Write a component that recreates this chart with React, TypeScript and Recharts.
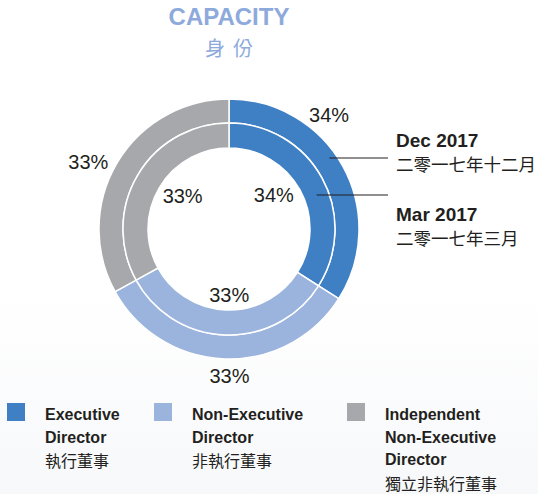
import { Cell, Pie, PieChart } from "recharts";

const categories = ["Executive Director", "Non-Executive Director", "Independent Non-Executive Director"];
const categoryLinesEn = [["Executive", "Director"], ["Non-Executive", "Director"], ["Independent", "Non-Executive", "Director"]];
const categoryLinesZh = ["執行董事", "非執行董事", "獨立非執行董事"];
const dec2017 = [34, 33, 33];
const mar2017 = [34, 33, 33];
const periodsEn = ["Dec 2017", "Mar 2017"];
const periodsZh = ["二零一七年十二月", "二零一七年三月"];

const COLORS = ["#3f7fc4", "#9bb4dd", "#a7a8ab"];
const TEXT = "#231f20";
const TITLE = "#8eaadc";
const FONT = "'Liberation Sans', Arial, 'Noto Sans CJK TC', sans-serif";
const CJK = "'Noto Sans CJK TC', sans-serif";

const CX = 229;
const CY = 229;
const RAD = Math.PI / 180;

const outerData = categories.map((name, i) => ({ name, value: dec2017[i] }));
const innerData = categories.map((name, i) => ({ name, value: mar2017[i] }));

// label nudges so the text sits where the original put it
const outerNudge = [{ da: 20, r: 152 }, { da: 2, r: 147 }, { da: 5, r: 156 }];
const innerNudge = [{ da: 8, r: 56 }, { da: 2, r: 66 }, { da: -5, r: 57 }];

function Callout({ cx, cy, ring, lineDy, radius }: any) {
  const x0 = cx + Math.sqrt(radius * radius - lineDy * lineDy);
  const y = cy - lineDy;
  return (
    <g>
      <line x1={x0} y1={y} x2={cx + 159} y2={y} stroke={TEXT} strokeWidth={1} />
      <text x={cx + 167} y={ring === 0 ? y - 11 : y + 26} fill={TEXT} fontSize={19} fontWeight="bold" fontFamily={FONT}>
        {periodsEn[ring]}
      </text>
      <text x={cx + 167} y={ring === 0 ? y + 13 : y + 50} fill={TEXT} fontSize={17.5} fontFamily={CJK}>
        {periodsZh[ring]}
      </text>
    </g>
  );
}

function makeLabel(ring: number) {
  return (props: any) => {
    const { cx, cy, midAngle, index, value } = props;
    const n = ring === 0 ? outerNudge[index] : innerNudge[index];
    const a = (midAngle + n.da) * RAD;
    const x = cx + n.r * Math.cos(a);
    const y = cy - n.r * Math.sin(a);
    return (
      <g key={`l-${ring}-${index}`}>
        <text x={x} y={y} textAnchor="middle" dominantBaseline="central" fill={TEXT} fontSize={20} fontFamily={FONT}>
          {`${value}%`}
        </text>
        {index === 0 && (
          <Callout cx={cx} cy={cy} ring={ring} lineDy={ring === 0 ? 71 : 34} radius={ring === 0 ? 123 : 94} />
        )}
      </g>
    );
  };
}

export default function App() {
  return (
    <div
      style={{
        position: "absolute",
        left: 0,
        top: 0,
        width: 538,
        height: 494,
        background: "linear-gradient(#ffffff 0%, #ffffff 60%, #f7f8fa 100%)",
        fontFamily: FONT,
        color: TEXT,
        overflow: "hidden",
      }}
    >
      <div style={{ position: "absolute", left: 0, width: 458, top: 3, textAlign: "center", color: TITLE, fontSize: 24, fontWeight: "bold", lineHeight: "28px" }}>
        CAPACITY
      </div>
      <div style={{ position: "absolute", left: 0, width: 466, top: 35, textAlign: "center", color: TITLE, fontSize: 20, fontFamily: CJK, letterSpacing: 8, lineHeight: "26px" }}>
        身份
      </div>

      <div style={{ position: "absolute", left: 0, top: 0 }}>
        <PieChart width={538} height={494} margin={{ top: 0, right: 0, bottom: 0, left: 0 }}>
          <Pie
            data={outerData}
            dataKey="value"
            cx={CX}
            cy={CY}
            innerRadius={106}
            outerRadius={130}
            startAngle={90}
            endAngle={-270}
            stroke="#ffffff"
            strokeWidth={1.5}
            label={makeLabel(0)}
            labelLine={false}
            isAnimationActive={false}
          >
            {outerData.map((d, i) => (
              <Cell key={d.name} fill={COLORS[i]} />
            ))}
          </Pie>
          <Pie
            data={innerData}
            dataKey="value"
            cx={CX}
            cy={CY}
            innerRadius={81}
            outerRadius={106}
            startAngle={90}
            endAngle={-270}
            stroke="#ffffff"
            strokeWidth={1.5}
            label={makeLabel(1)}
            labelLine={false}
            isAnimationActive={false}
          >
            {innerData.map((d, i) => (
              <Cell key={d.name} fill={COLORS[i]} />
            ))}
          </Pie>
        </PieChart>
      </div>

      {categories.map((name, i) => {
        const left = [7, 154, 347][i];
        const lines = categoryLinesEn[i];
        return (
          <div key={name} style={{ position: "absolute", left, top: 403 }}>
            <div style={{ position: "absolute", left: 0, top: 0, width: 18, height: 18, background: COLORS[i] }} />
            <div style={{ position: "absolute", left: 38, top: 1, whiteSpace: "nowrap" }}>
              {lines.map((l) => (
                <div key={l} style={{ height: 22.5, lineHeight: "22.5px", fontSize: 16, fontWeight: "bold" }}>
                  {l}
                </div>
              ))}
              <div style={{ height: 22.5, lineHeight: "22.5px", fontSize: 16, fontFamily: CJK }}>{categoryLinesZh[i]}</div>
            </div>
          </div>
        );
      })}
    </div>
  );
}
